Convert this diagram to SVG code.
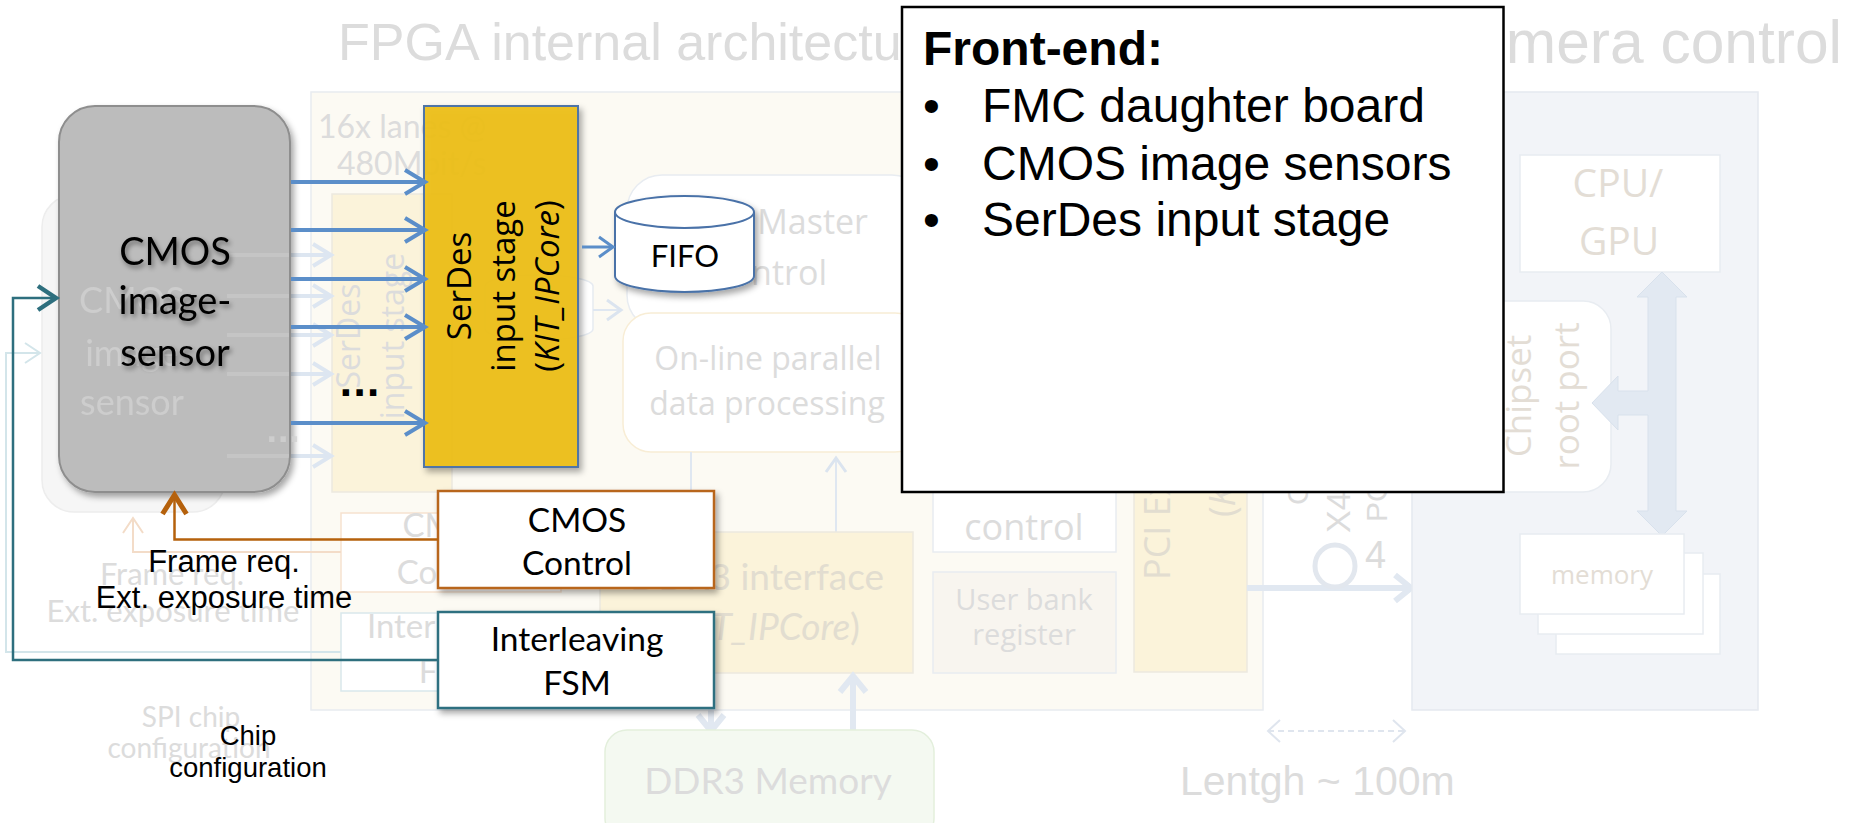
<svg xmlns="http://www.w3.org/2000/svg" width="1853" height="823" viewBox="0 0 1853 823">
  <defs>
    <style>
      .cal{font-family:Lato,"Liberation Sans",sans-serif}
      .seg{font-family:"Open Sans","DejaVu Sans",sans-serif}
      .ari{font-family:"Liberation Sans",Arial,sans-serif}
      .mid{text-anchor:middle}
      .end{text-anchor:end}
      .gtext{fill:#dcdcdc}
      .gwarm{fill:#e3ddd5}
      .gytext{fill:#e2ddd0}
      .gbox{fill:#ffffff;stroke:#e8ecf1;stroke-width:1.5}
      .gyel{fill:#fbf3da;stroke:#ece9df;stroke-width:1.5}
      .gline{fill:none;stroke:#dfe7f1;stroke-width:2}
      .gthick{fill:none;stroke:#e1e8f1;stroke-width:6}
      .glane{fill:none;stroke:#dde6f1;stroke-width:4;marker-end:url(#mFadeLane)}
      .lane{fill:none;stroke:#5b8ec9;stroke-width:4;marker-end:url(#mBlue)}
      .box{fill:#ffffff;stroke-width:2.5;filter:url(#shadow)}
      .dark{fill:#000000}
    </style>
    <filter id="shadow" x="-20%" y="-20%" width="150%" height="150%">
      <feDropShadow dx="3" dy="4" stdDeviation="3" flood-color="#000000" flood-opacity="0.35"/>
    </filter>
    <filter id="tshadow" x="-20%" y="-30%" width="150%" height="180%">
      <feDropShadow dx="2" dy="3" stdDeviation="2.5" flood-color="#000000" flood-opacity="0.45"/>
    </filter>
    <marker id="mBlue" viewBox="0 0 30 30" markerUnits="userSpaceOnUse" markerWidth="30" markerHeight="30" refX="25" refY="15" orient="auto" overflow="visible">
      <path d="M5,3 L25,15 L5,27" fill="none" stroke="#5b8ec9" stroke-width="4"/>
    </marker>
    <marker id="mBlueSm" viewBox="0 0 30 30" markerUnits="userSpaceOnUse" markerWidth="30" markerHeight="30" refX="25" refY="15" orient="auto" overflow="visible">
      <path d="M11,5 L25,15 L11,25" fill="none" stroke="#5b8ec9" stroke-width="3"/>
    </marker>
    <marker id="mOrange" viewBox="0 0 30 30" markerUnits="userSpaceOnUse" markerWidth="30" markerHeight="30" refX="25" refY="15" orient="auto" overflow="visible">
      <path d="M6,3 L25,15 L6,27" fill="none" stroke="#b5610c" stroke-width="5"/>
    </marker>
    <marker id="mTeal" viewBox="0 0 30 30" markerUnits="userSpaceOnUse" markerWidth="30" markerHeight="30" refX="25" refY="15" orient="auto" overflow="visible">
      <path d="M7,3 L25,15 L7,27" fill="none" stroke="#2e6f7e" stroke-width="4.5"/>
    </marker>
    <marker id="mFade" viewBox="0 0 30 30" markerUnits="userSpaceOnUse" markerWidth="30" markerHeight="30" refX="25" refY="15" orient="auto" overflow="visible">
      <path d="M11,5 L25,15 L11,25" fill="none" stroke="#dbe4ef" stroke-width="3"/>
    </marker>
    <marker id="mFadeLane" viewBox="0 0 30 30" markerUnits="userSpaceOnUse" markerWidth="30" markerHeight="30" refX="25" refY="15" orient="auto" overflow="visible">
      <path d="M7,4 L25,15 L7,26" fill="none" stroke="#dde6f1" stroke-width="4"/>
    </marker>
    <marker id="mFadeThick" viewBox="0 0 30 30" markerUnits="userSpaceOnUse" markerWidth="30" markerHeight="30" refX="25" refY="15" orient="auto" overflow="visible">
      <path d="M9,2 L25,15 L9,28" fill="none" stroke="#e1e8f1" stroke-width="6"/>
    </marker>
    <marker id="mFadeOr" viewBox="0 0 30 30" markerUnits="userSpaceOnUse" markerWidth="30" markerHeight="30" refX="25" refY="15" orient="auto" overflow="visible">
      <path d="M10,5 L25,15 L10,25" fill="none" stroke="#f3dcc8" stroke-width="2"/>
    </marker>
    <marker id="mFadeTeal" viewBox="0 0 30 30" markerUnits="userSpaceOnUse" markerWidth="30" markerHeight="30" refX="25" refY="15" orient="auto" overflow="visible">
      <path d="M10,5 L25,15 L10,25" fill="none" stroke="#d3e5ea" stroke-width="2"/>
    </marker>
    <marker id="mDash" viewBox="0 0 30 30" markerUnits="userSpaceOnUse" markerWidth="30" markerHeight="30" refX="25" refY="15" orient="auto-start-reverse" overflow="visible">
      <path d="M13,4 L25,15 L13,26" fill="none" stroke="#dfe5ee" stroke-width="2"/>
    </marker>
  </defs>

  <rect x="0" y="0" width="1853" height="823" fill="#ffffff"/>

  <!-- washed-out background: FPGA architecture overview -->
  <g id="background">
    <text class="ari gtext" x="338" y="60" font-size="52">FPGA internal architectu</text>
    <text class="ari gtext end" x="1842" y="63" font-size="60.5">mera control</text>

    <!-- FPGA area -->
    <rect x="311" y="92" width="952" height="618" fill="#fcfaf3" stroke="#e8ebf0" stroke-width="1.5"/>
    <text class="cal gtext" x="318" y="138" font-size="32">16x lanes @</text>
    <text class="cal gtext" x="337" y="175" font-size="32">480Mbit/s</text>

    <!-- former sensor block -->
    <rect x="42" y="195" width="183" height="317" rx="32" fill="#f6f6f6" stroke="#ededed" stroke-width="1.5"/>

    <!-- former SerDes stage -->
    <rect x="332" y="194" width="120" height="298" class="gyel"/>
    <text class="seg gtext mid" font-size="32" transform="translate(360,336) rotate(-90)">SerDes</text>
    <text class="seg gtext mid" font-size="32" transform="translate(404,336) rotate(-90)">input stage</text>
    <line x1="227" y1="255" x2="331" y2="255" class="glane"/>
    <line x1="227" y1="296" x2="331" y2="296" class="glane"/>
    <line x1="227" y1="335" x2="331" y2="335" class="glane"/>
    <line x1="227" y1="374" x2="331" y2="374" class="glane"/>
    <line x1="227" y1="456" x2="331" y2="456" class="glane"/>

    <!-- former FIFO -->
    <path d="M485,286 L485,329 A54,11 0 0 0 593,329 L593,286 A54,11 0 0 0 485,286 Z" fill="#ffffff" stroke="#e6ebf1" stroke-width="1.5"/>
    <line x1="593" y1="310" x2="621" y2="310" class="gline" marker-end="url(#mFade)"/>

    <!-- master control / on-line processing -->
    <rect x="627" y="175" width="300" height="155" rx="35" class="gbox"/>
    <text class="seg gtext end" x="868" y="234" font-size="34">Master</text>
    <text class="seg gtext end" x="827" y="285" font-size="34">control</text>
    <rect x="623" y="313" width="300" height="139" rx="28" fill="#ffffff" stroke="#f8edd5" stroke-width="1.5"/>
    <text class="seg gtext mid" x="768" y="370" font-size="32">On-line parallel</text>
    <text class="seg gtext mid" x="767" y="415" font-size="32">data processing</text>
    <line x1="691" y1="452" x2="691" y2="532" class="gline"/>
    <line x1="836" y1="532" x2="836" y2="458" class="gline" marker-end="url(#mFade)"/>

    <!-- DDR3 interface -->
    <rect x="600" y="532" width="313" height="141" class="gyel"/>
    <text class="cal gytext end" x="884" y="590" font-size="37">DDR3 interface</text>
    <text class="cal gytext end" x="860" y="640" font-size="37">(<tspan font-style="italic">KIT_IPCore</tspan>)</text>
    <line x1="711" y1="673" x2="711" y2="731" class="gthick" marker-end="url(#mFadeThick)"/>
    <line x1="853" y1="730" x2="853" y2="676" class="gthick" marker-end="url(#mFadeThick)"/>

    <!-- DDR3 memory -->
    <rect x="605" y="730" width="329" height="110" rx="22" fill="#f4f9f1" stroke="#e3efdc" stroke-width="1.5"/>
    <text class="cal gtext mid" x="768" y="794" font-size="37">DDR3 Memory</text>

    <!-- register blocks -->
    <rect x="933" y="440" width="183" height="112" class="gbox"/>
    <text class="seg gtext mid" x="1024" y="540" font-size="36">control</text>
    <rect x="933" y="572" width="183" height="101" fill="#f8f5ef" stroke="#e8ecf1" stroke-width="1.5"/>
    <text class="seg gtext mid" x="1024" y="610" font-size="29">User bank</text>
    <text class="seg gtext mid" x="1024" y="645" font-size="29">register</text>

    <!-- PCI Express block -->
    <rect x="1134" y="300" width="113" height="372" class="gyel"/>
    <text class="seg gytext" font-size="36" transform="translate(1170,580) rotate(-90)">PCI Express</text>
    <text class="seg gytext" font-size="36" transform="translate(1235,517) rotate(-90)">(<tspan font-style="italic">KIT_IPCore</tspan>)</text>

    <!-- link to host -->
    <line x1="1247" y1="588" x2="1411" y2="588" class="gthick" stroke-width="5" marker-end="url(#mFadeThick)"/>
    <ellipse cx="1335" cy="566" rx="20" ry="21" fill="none" stroke="#e2e7ee" stroke-width="5"/>
    <text class="ari gtext" x="1365" y="568" font-size="38">4</text>
    <text class="ari gtext" font-size="34" transform="translate(1350,533) rotate(-90)">X4</text>
    <text class="ari gtext" font-size="30" transform="translate(1387,522) rotate(-90)">PC</text>
    <text class="ari gtext" font-size="30" transform="translate(1308,505) rotate(-90)">C</text>
    <line x1="1268" y1="731" x2="1405" y2="731" stroke="#dfe5ee" stroke-width="2" stroke-dasharray="6,4" marker-start="url(#mDash)" marker-end="url(#mDash)"/>
    <text class="ari gtext" x="1180" y="795" font-size="41">Lentgh ~ 100m</text>

    <!-- host PC -->
    <rect x="1412" y="92" width="346" height="618" fill="#f2f4f8" stroke="#e5e9ef" stroke-width="1.5"/>
    <rect x="1520" y="155" width="200" height="117" class="gbox"/>
    <text class="seg gwarm mid" x="1618" y="197" font-size="39">CPU/</text>
    <text class="seg gwarm mid" x="1619" y="255" font-size="39">GPU</text>
    <rect x="1380" y="301" width="231" height="191" rx="28" class="gbox"/>
    <text class="seg gwarm mid" font-size="35" transform="translate(1531,396) rotate(-90)">Chipset</text>
    <text class="seg gwarm mid" font-size="35" transform="translate(1579,396) rotate(-90)">root port</text>
    <path d="M1662,272 L1687,297 L1676,297 L1676,511 L1687,511 L1662,536 L1637,511 L1648,511 L1648,415 L1618,415 L1618,430 L1592,403 L1618,376 L1618,391 L1648,391 L1648,297 L1637,297 Z" fill="#e2e9f2" stroke="#d8e1ec" stroke-width="1"/>
    <rect x="1556" y="574" width="164" height="80" class="gbox"/>
    <rect x="1538" y="553" width="165" height="81" class="gbox"/>
    <rect x="1520" y="534" width="164" height="80" class="gbox"/>
    <text class="seg gwarm mid" x="1602" y="584" font-size="26">memory</text>

    <!-- former control blocks and links -->
    <rect x="341" y="513" width="220" height="79" fill="#ffffff" stroke="#f6e2cf" stroke-width="1.5"/>
    <text class="cal gtext mid" x="451" y="537" font-size="33">CMOS</text>
    <text class="cal gtext mid" x="451" y="584" font-size="33">Control</text>
    <rect x="341" y="613" width="220" height="78" fill="#ffffff" stroke="#d9e8ec" stroke-width="1.5"/>
    <text class="cal gtext mid" x="452" y="638" font-size="33">Interleaving</text>
    <text class="cal gtext mid" x="452" y="683" font-size="33">FSM</text>
    <path d="M341,552 H133 V518" fill="none" stroke="#f3dcc8" stroke-width="2" marker-end="url(#mFadeOr)"/>
    <path d="M341,652 H6 V353 H40" fill="none" stroke="#d3e5ea" stroke-width="2" marker-end="url(#mFadeTeal)"/>
    <text class="cal gtext mid" x="172" y="585" font-size="31">Frame req.</text>
    <text class="cal gtext mid" x="173" y="622" font-size="31">Ext. exposure time</text>
    <text class="cal gtext mid" x="191" y="727" font-size="28">SPI chip</text>
    <text class="cal gtext mid" x="189" y="758" font-size="28">configuration</text>
  </g>

  <!-- image sensor -->
  <g id="sensor">
    <rect x="59" y="106" width="231" height="386" rx="36" fill="#bcbcbc" stroke="#8e8e8e" stroke-width="2" filter="url(#shadow)"/>
    <!-- washed-out layer showing through the sensor block -->
    <g opacity="0.78" fill="#d2d2d2">
      <text class="cal mid" x="132" y="313" font-size="36">CMOS</text>
      <text class="cal mid" x="132" y="366" font-size="36">image</text>
      <text class="cal mid" x="132" y="415" font-size="36">sensor</text>
    </g>
    <g stroke="#ffffff" stroke-opacity="0.14" stroke-width="4">
      <line x1="227" y1="255" x2="289" y2="255"/>
      <line x1="227" y1="296" x2="289" y2="296"/>
      <line x1="227" y1="335" x2="289" y2="335"/>
      <line x1="227" y1="374" x2="289" y2="374"/>
      <line x1="227" y1="456" x2="289" y2="456"/>
    </g>
    <text x="266" y="442" font-family="DejaVu Sans,sans-serif" font-size="30" font-weight="bold" fill="#d2d2d2" opacity="0.78">...</text>
    <g class="cal mid dark" font-size="38" filter="url(#tshadow)">
      <text x="175" y="265">CMOS</text>
      <text x="175" y="314">image-</text>
      <text x="175" y="366">sensor</text>
    </g>
  </g>

  <!-- SerDes input stage -->
  <g id="serdes">
    <rect x="424" y="106" width="154" height="361" fill="#eebf14" fill-opacity="0.93" stroke="#4f75a7" stroke-width="2" filter="url(#shadow)"/>
    <g class="seg mid dark" font-size="33">
      <text transform="translate(471,286) rotate(-90)">SerDes</text>
      <text transform="translate(515,286) rotate(-90)">input stage</text>
      <text transform="translate(559,286) rotate(-90)">(<tspan font-style="italic">KIT_IPCore</tspan>)</text>
    </g>
  </g>

  <!-- FIFO -->
  <g id="fifo">
    <path d="M615,212 L615,276 A69.5,16 0 0 0 754,276 L754,212 A69.5,16 0 0 0 615,212 Z" fill="#ffffff" stroke="#4a72a8" stroke-width="2" filter="url(#shadow)"/>
    <path d="M615,212 A69.5,16 0 0 0 754,212" fill="none" stroke="#4a72a8" stroke-width="2"/>
    <text class="cal mid dark" x="685" y="267" font-size="31">FIFO</text>
  </g>

  <!-- CMOS control -->
  <g id="cmos-control">
    <rect x="438" y="491" width="276" height="97" class="box" stroke="#b8661a"/>
    <text class="cal mid dark" x="577" y="532" font-size="33.5">CMOS</text>
    <text class="cal mid dark" x="577" y="575" font-size="33.5">Control</text>
  </g>

  <!-- interleaving FSM -->
  <g id="interleaving-fsm">
    <rect x="438" y="612" width="276" height="96" class="box" stroke="#2f6f80"/>
    <text class="cal mid dark" x="577" y="651" font-size="33.5">Interleaving</text>
    <text class="cal mid dark" x="577" y="695" font-size="33.5">FSM</text>
  </g>

  <!-- links -->
  <g id="connectors">
    <line x1="291" y1="182" x2="425" y2="182" class="lane"/>
    <line x1="291" y1="230" x2="425" y2="230" class="lane"/>
    <line x1="291" y1="279" x2="425" y2="279" class="lane"/>
    <line x1="291" y1="327" x2="425" y2="327" class="lane"/>
    <line x1="291" y1="423" x2="425" y2="423" class="lane"/>
    <line x1="582" y1="247" x2="613" y2="247" stroke="#5b8ec9" stroke-width="3" marker-end="url(#mBlueSm)"/>
    <path d="M438,539.5 H174.5 V495" fill="none" stroke="#b5610c" stroke-width="2.5" marker-end="url(#mOrange)"/>
    <path d="M438,660 H13 V298 H56" fill="none" stroke="#2e6f7e" stroke-width="2.5" marker-end="url(#mTeal)"/>
  </g>

  <!-- labels -->
  <g id="labels">
    <text x="339" y="396" font-family="DejaVu Sans,sans-serif" font-size="36" font-weight="bold" class="dark">...</text>
    <text class="ari mid dark" x="224" y="572" font-size="31">Frame req.</text>
    <text class="ari mid dark" x="224" y="608" font-size="31">Ext. exposure time</text>
    <text class="ari mid dark" x="248" y="745" font-size="27.5">Chip</text>
    <text class="ari mid dark" x="248" y="777" font-size="27.5">configuration</text>
  </g>

  <!-- front-end summary -->
  <g id="front-end">
    <rect x="902" y="7" width="601.5" height="485" fill="#ffffff" stroke="#000000" stroke-width="2.5"/>
    <text class="ari dark" x="923" y="65" font-size="48" font-weight="bold">Front-end:</text>
    <g class="ari dark" font-size="48">
      <text x="923" y="122">•</text>
      <text x="982" y="122">FMC daughter board</text>
      <text x="923" y="180">•</text>
      <text x="982" y="180">CMOS image sensors</text>
      <text x="923" y="236">•</text>
      <text x="982" y="236">SerDes input stage</text>
    </g>
  </g>
</svg>
